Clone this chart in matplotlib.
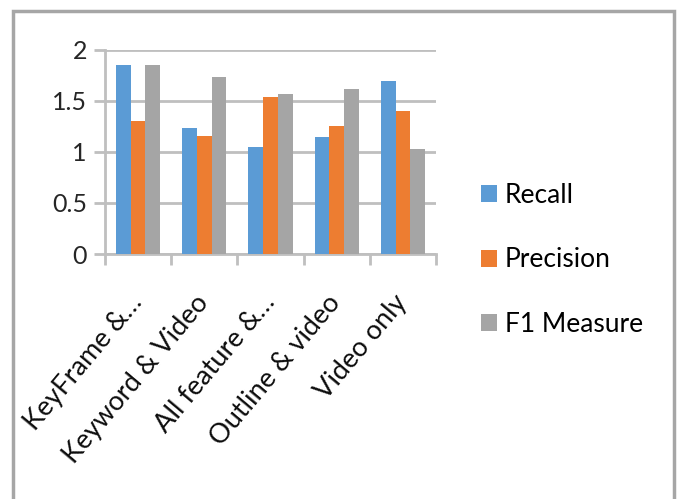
import matplotlib.pyplot as plt
import matplotlib.transforms as mtransforms
from matplotlib.patches import Rectangle
import numpy as np

plt.rcParams['font.family'] = ['Lato', 'DejaVu Sans']

# ---------------------------
# Data
# ---------------------------
categories = ["KeyFrame &…", "Keyword & Video", "All feature &…", "Outline & video", "Video only"]
recall = [1.85, 1.24, 1.05, 1.15, 1.70]
precision = [1.30, 1.16, 1.54, 1.25, 1.40]
f1_measure = [1.85, 1.74, 1.57, 1.62, 1.03]

series = [("Recall", recall, "#5B9BD5"),
          ("Precision", precision, "#ED7D31"),
          ("F1 Measure", f1_measure, "#A5A5A5")]

# ---------------------------
# Plot
# ---------------------------
W, H = 678, 499
fig = plt.figure(figsize=(W / 100, H / 100), dpi=100)
ax = fig.add_axes([105 / W, 1 - 254 / H, (436 - 105) / W, (254 - 50) / H])

x = np.arange(len(categories))
width = 2 / 3 / 3
handles = []
for i, (name, vals, color) in enumerate(series):
    b = ax.bar(x + (i - 1) * width, vals, width, color=color, label=name, zorder=3)
    handles.append(b)

ax.set_xlim(-0.5, len(categories) - 0.5)
ax.set_ylim(0, 2)
ax.set_yticks([0, 0.5, 1, 1.5, 2])
ax.set_yticklabels(["0", "0.5", "1", "1.5", "2"], fontsize=18, color="#262626")
ax.grid(axis='y', color="#BFBFBF", linewidth=2, zorder=0)
ax.tick_params(axis='y', length=8, width=2, color="#BFBFBF", pad=5)

# category ticks sit between the groups
ax.set_xticks(np.arange(len(categories) + 1) - 0.5)
ax.set_xticklabels([])
ax.tick_params(axis='x', which='major', length=8, width=2, color="#BFBFBF")
ax.set_xticks(x, minor=True)
ax.set_xticklabels(categories, minor=True, rotation=50, ha='right', fontsize=19.5,
                   color="#0d0d0d")
ax.tick_params(axis='x', which='minor', length=0, pad=26)
shift = mtransforms.ScaledTranslation(9 / 100, 0, fig.dpi_scale_trans)
for lbl in ax.get_xticklabels(minor=True):
    lbl.set_transform(lbl.get_transform() + shift)

for side in ['top', 'right']:
    ax.spines[side].set_visible(False)
ax.spines['left'].set_color("#BFBFBF")
ax.spines['left'].set_linewidth(2)
ax.spines['bottom'].set_color("#BFBFBF")
ax.spines['bottom'].set_linewidth(2)

fig.legend(handles=handles, loc='center left', bbox_to_anchor=(481 / W, 1 - 260 / H),
           frameon=False, fontsize=19, handlelength=0.6, handleheight=0.6,
           handletextpad=0.3, labelspacing=1.5, borderpad=0, borderaxespad=0)

# chart frame
fig.patches.append(Rectangle((13 / W, -0.05), (674 - 13) / W, 1.05 - 11 / H,
                             transform=fig.transFigure, fill=False,
                             edgecolor="#A6A6A6", linewidth=2.5))

fig.savefig("out.png", dpi=100)
